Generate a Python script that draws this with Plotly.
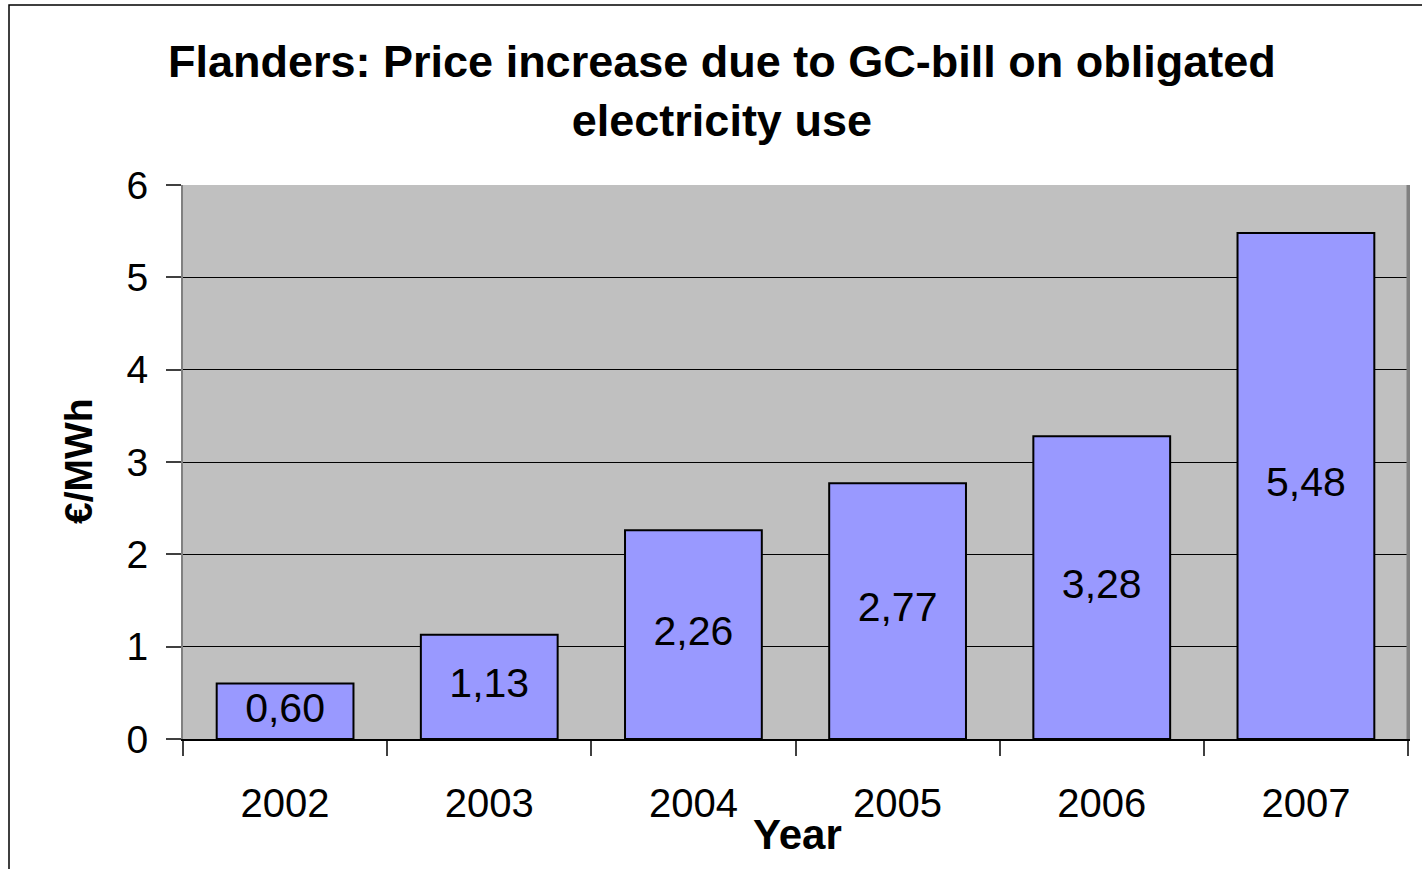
import plotly.graph_objects as go

years = ["2002", "2003", "2004", "2005", "2006", "2007"]
values = [0.60, 1.13, 2.26, 2.77, 3.28, 5.48]
labels = [f"{v:.2f}".replace(".", ",") for v in values]

FONT = "Liberation Sans, Arial, sans-serif"
L, R, T, B = 183, 14, 185, 130
W, H = 1422, 869
pw, ph = W - L - R, H - T - B

def px(x):
    return (x - L) / pw

def py(y):
    return (H - B - y) / ph

fig = go.Figure()
fig.add_trace(go.Bar(
    x=years, y=values,
    marker=dict(color="#9999FF", line=dict(color="black", width=2)),
    hoverinfo="skip", showlegend=False,
))
fig.add_trace(go.Scatter(
    x=years, y=[v / 2 for v in values], mode="text", text=labels,
    textfont=dict(family=FONT, size=41, color="black"),
    textposition="middle center",
    hoverinfo="skip", showlegend=False,
))

fig.update_layout(
    width=W, height=H,
    margin=dict(l=L, r=R, t=T, b=B, pad=0, autoexpand=False),
    paper_bgcolor="white", plot_bgcolor="#C0C0C0",
    bargap=0.33,
    font=dict(family=FONT, color="black"),
    xaxis=dict(
        type="category", tickson="boundaries", ticks="outside", ticklen=15,
        tickcolor="#404040", tickwidth=1.5, showline=True, linecolor="black", linewidth=1.5,
        tickfont=dict(size=40), showgrid=False, ticklabelstandoff=28,
    ),
    yaxis=dict(
        range=[0, 6], dtick=1, ticks="outside", ticklen=15, tickcolor="#404040", tickwidth=1.5,
        showline=True, linecolor="#808080", linewidth=2, mirror=True,
        showgrid=True, gridcolor="black", gridwidth=1, zeroline=False,
        tickfont=dict(size=39), ticklabelstandoff=10,
    ),
    shapes=[
        dict(type="rect", xref="paper", yref="paper",
             x0=px(9), x1=px(1440), y0=py(5), y1=py(890),
             line=dict(color="black", width=1.5), layer="below"),
        dict(type="line", xref="paper", yref="paper", x0=1, x1=1, y0=0, y1=1,
             line=dict(color="#808080", width=3)),
    ],
    annotations=[
        dict(text="<b>Flanders: Price increase due to GC-bill on obligated<br>electricity use</b>",
             xref="paper", yref="paper", x=px(722), y=py(34), xanchor="center", yanchor="top",
             showarrow=False, font=dict(size=45), align="center"),
        dict(text="<b>€/MWh</b>", textangle=-90, xref="paper", yref="paper",
             x=px(78), y=py(461), xanchor="center", yanchor="middle",
             showarrow=False, font=dict(size=39)),
        dict(text="<b>Year</b>", xref="paper", yref="paper",
             x=px(797), y=py(834), xanchor="center", yanchor="middle",
             showarrow=False, font=dict(size=42)),
    ],
)

fig.write_html("out.html")
